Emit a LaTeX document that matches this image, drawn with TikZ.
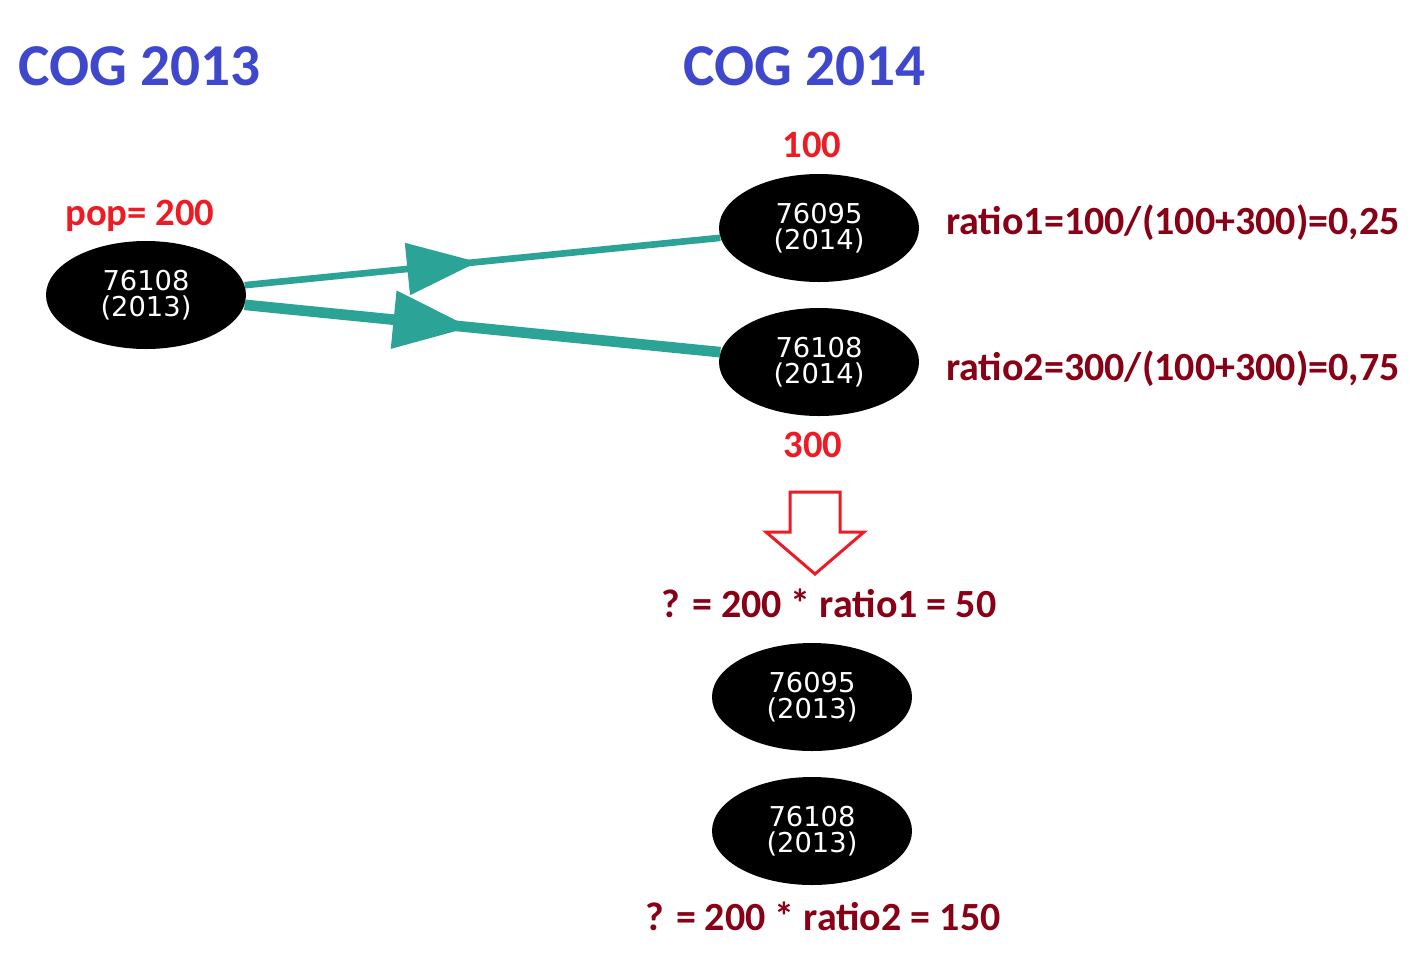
\documentclass[tikz,border=0pt]{standalone}
\usepackage{fontspec}
\setmainfont{Carlito}
\newfontfamily\verd{DejaVu Sans}
\usetikzlibrary{shapes.geometric,arrows.meta,decorations.markings}
\definecolor{cogblue}{HTML}{3F48CC}
\definecolor{popred}{HTML}{ED1C24}
\definecolor{darkred}{HTML}{880015}
\definecolor{teal}{HTML}{2CA397}
\begin{document}
\begin{tikzpicture}[x=0.75pt,y=-0.75pt,
  cog/.style={ellipse,fill=black,text=white,minimum width=150pt,minimum height=81pt,inner sep=0pt,
    align=center,font=\verd\fontsize{20.5}{19.5}\selectfont},
  title/.style={text=cogblue,font=\bfseries\fontsize{44.5}{44.5}\selectfont,inner sep=0pt},
  redlbl/.style={text=popred,font=\bfseries\fontsize{29}{29}\selectfont,inner sep=0pt},
  ratiolbl/.style={text=darkred,font=\bfseries\fontsize{30}{30}\selectfont,inner sep=0pt},
  flow/.style={draw=teal,line cap=butt},
  midarrow/.style 2 args={postaction={decorate},decoration={markings,
    mark=at position #1 with {\arrow{Triangle[length=#2,width=0.72*#2,fill=teal,color=teal]}}}}
]
\useasboundingbox (0,0) rectangle (1410,954);

\node[title,anchor=base west] (t13) at (18,85) {COG 2013};
\node[title,anchor=base west] (t14) at (683,85) {COG 2014};

\node[cog] (a) at (146,295) {76108\\(2013)};
\node[cog] (b) at (819,228) {76095\\(2014)};
\node[cog] (c) at (819,362) {76108\\(2014)};
\node[cog] (d) at (812,697) {76095\\(2013)};
\node[cog] (e) at (812,831) {76108\\(2013)};

\node[redlbl,anchor=base west] (pop) at (65,225) {pop= 200};
\node[redlbl,anchor=base] (l100) at (812,157) {100};
\node[redlbl,anchor=base] (l300) at (813,457) {300};

\node[ratiolbl,anchor=base west] (r1) at (946,234) {ratio1=100/(100+300)=0,25};
\node[ratiolbl,anchor=base west] (r2) at (946,380) {ratio2=300/(100+300)=0,75};
\node[ratiolbl,anchor=base] (q1) at (829,617) {? = 200 * ratio1 = 50};
\node[ratiolbl,anchor=base] (q2) at (823,930) {? = 200 * ratio2 = 150};

\draw[flow,line width=5pt,midarrow={0.49}{53pt}] (a) -- (b);
\draw[flow,line width=8pt,midarrow={0.475}{58pt}] (a) -- (c);

\draw[popred,line width=2.25pt,line join=miter]
  (790,492) -- (840,492) -- (840,532) -- (864,532) -- (815,574) -- (766,532) -- (790,532) -- cycle;
\end{tikzpicture}
\end{document}
